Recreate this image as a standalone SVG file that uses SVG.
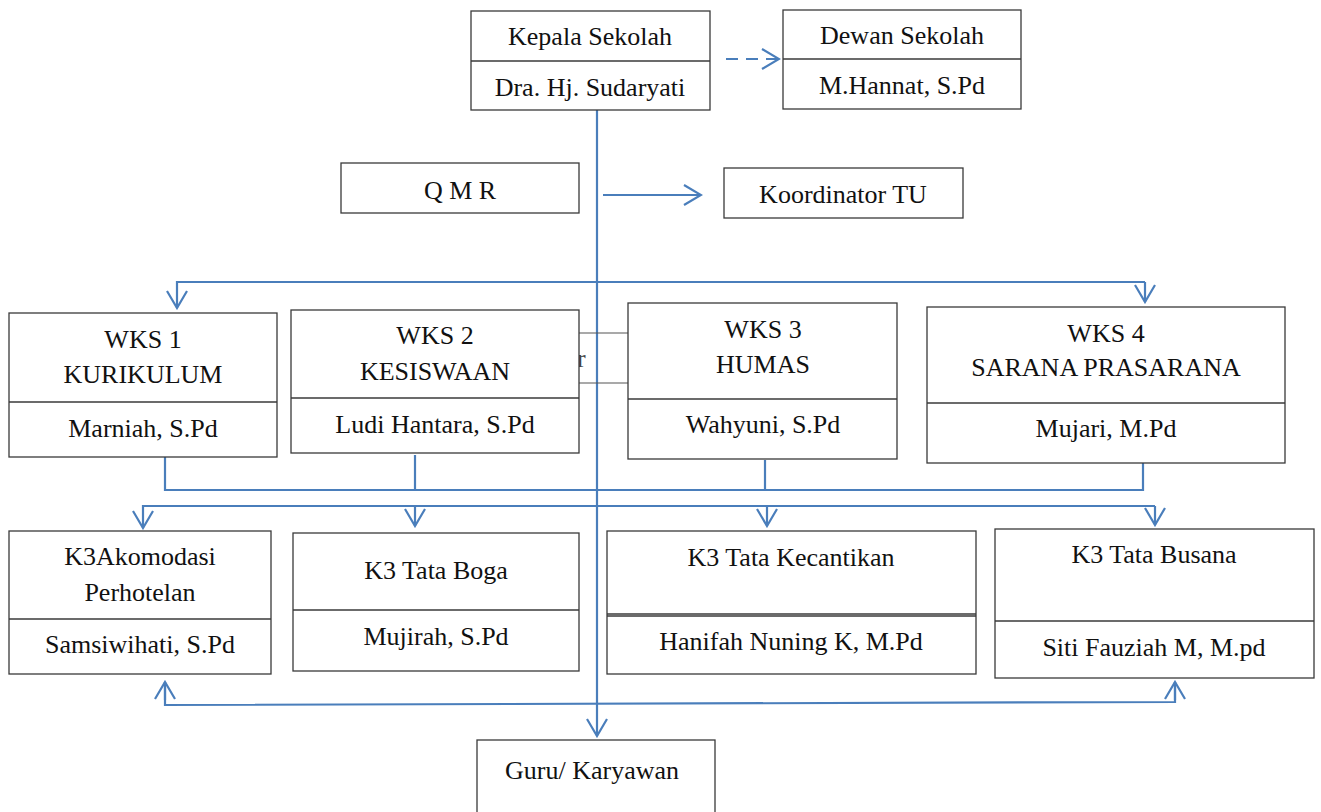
<svg xmlns="http://www.w3.org/2000/svg" width="1321" height="812" viewBox="0 0 1321 812">
<style>
.box{fill:#fff;stroke:#3a3a3a;stroke-width:1.3}
.div{stroke:#3a3a3a;stroke-width:1.3}
.t{font-family:"Liberation Serif","Times New Roman",serif;font-size:26px;fill:#111;text-anchor:middle}
.c{fill:none;stroke:#4a7ebb;stroke-width:2.2}
.g{fill:none;stroke:#555;stroke-width:1.2}
</style>
<defs>
<marker id="ah" viewBox="-20 -12 22 24" refX="0" refY="0" markerWidth="22" markerHeight="24" markerUnits="userSpaceOnUse" orient="auto">
<path d="M-17,-10 L0,0 L-17,10" fill="none" stroke="#4a7ebb" stroke-width="2.2"/>
</marker>
</defs>
<rect width="1321" height="812" fill="#fff"/>
<g id="connectors">
<line class="c" x1="726" y1="59" x2="779" y2="59" stroke-dasharray="12,8" marker-end="url(#ah)"/>
<line class="c" x1="597" y1="110" x2="597" y2="736" marker-end="url(#ah)"/>
<line class="c" x1="603" y1="195" x2="701" y2="195" marker-end="url(#ah)"/>
<polyline class="c" points="1145,282 177,282 177,308" marker-end="url(#ah)"/>
<line class="c" x1="1145" y1="282" x2="1145" y2="302" marker-end="url(#ah)"/>
<line class="g" x1="579" y1="333" x2="628" y2="333"/>
<line class="g" x1="579" y1="383" x2="628" y2="383"/>
<polyline class="c" points="165,457 165,490 1143,490 1143,462"/>
<line class="c" x1="415" y1="455" x2="415" y2="490"/>
<line class="c" x1="765" y1="460" x2="765" y2="490"/>
<polyline class="c" points="1155,506 143,506 143,528" marker-end="url(#ah)"/>
<line class="c" x1="415" y1="506" x2="415" y2="526" marker-end="url(#ah)"/>
<line class="c" x1="767" y1="506" x2="767" y2="526" marker-end="url(#ah)"/>
<line class="c" x1="1155" y1="506" x2="1155" y2="525" marker-end="url(#ah)"/>
<polyline class="c" points="165,682 165,705 1175,702 1175,682"/>
<line class="c" x1="165" y1="700" x2="165" y2="682" marker-end="url(#ah)"/>
<line class="c" x1="1175" y1="700" x2="1175" y2="682" marker-end="url(#ah)"/>
</g>
<text class="t" x="577" y="367" style="text-anchor:start;fill:#444">r</text>
<g id="kepala">
<rect class="box" x="471" y="11" width="239" height="99"/>
<line class="div" x1="471" y1="61" x2="710" y2="61"/>
<text class="t" x="590" y="45">Kepala Sekolah</text>
<text class="t" x="590" y="96">Dra. Hj. Sudaryati</text>
</g>
<g id="dewan">
<rect class="box" x="783" y="10" width="238" height="99"/>
<line class="div" x1="783" y1="59" x2="1021" y2="59"/>
<text class="t" x="902" y="44">Dewan Sekolah</text>
<text class="t" x="902" y="94">M.Hannat, S.Pd</text>
</g>
<g id="qmr">
<rect class="box" x="341" y="163" width="238" height="50"/>
<text class="t" x="460" y="199">Q M R</text>
</g>
<g id="koordinator">
<rect class="box" x="724" y="168" width="239" height="50"/>
<text class="t" x="843" y="203">Koordinator TU</text>
</g>
<g id="wks1">
<rect class="box" x="9" y="313" width="268" height="144"/>
<line class="div" x1="9" y1="402" x2="277" y2="402"/>
<text class="t" x="143" y="348">WKS 1</text>
<text class="t" x="143" y="383">KURIKULUM</text>
<text class="t" x="143" y="437">Marniah, S.Pd</text>
</g>
<g id="wks2">
<rect class="box" x="291" y="310" width="288" height="143"/>
<line class="div" x1="291" y1="398" x2="579" y2="398"/>
<text class="t" x="435" y="344">WKS 2</text>
<text class="t" x="435" y="380">KESISWAAN</text>
<text class="t" x="435" y="433">Ludi Hantara, S.Pd</text>
</g>
<g id="wks3">
<rect class="box" x="628" y="303" width="269" height="156"/>
<line class="div" x1="628" y1="399" x2="897" y2="399"/>
<text class="t" x="763" y="338">WKS 3</text>
<text class="t" x="763" y="373">HUMAS</text>
<text class="t" x="763" y="433">Wahyuni, S.Pd</text>
</g>
<g id="wks4">
<rect class="box" x="927" y="307" width="358" height="156"/>
<line class="div" x1="927" y1="403" x2="1285" y2="403"/>
<text class="t" x="1106" y="342">WKS 4</text>
<text class="t" x="1106" y="376">SARANA PRASARANA</text>
<text class="t" x="1106" y="437">Mujari, M.Pd</text>
</g>
<g id="k3akomodasi">
<rect class="box" x="9" y="531" width="262" height="143"/>
<line class="div" x1="9" y1="619" x2="271" y2="619"/>
<text class="t" x="140" y="565">K3Akomodasi</text>
<text class="t" x="140" y="601">Perhotelan</text>
<text class="t" x="140" y="653">Samsiwihati, S.Pd</text>
</g>
<g id="k3boga">
<rect class="box" x="293" y="533" width="286" height="138"/>
<line class="div" x1="293" y1="610" x2="579" y2="610"/>
<text class="t" x="436" y="579">K3 Tata Boga</text>
<text class="t" x="436" y="645">Mujirah, S.Pd</text>
</g>
<g id="k3kecantikan">
<rect class="box" x="607" y="531" width="369" height="143"/>
<line class="div" x1="607" y1="614" x2="976" y2="614"/>
<line class="div" x1="607" y1="616" x2="976" y2="616"/>
<text class="t" x="791" y="566">K3 Tata Kecantikan</text>
<text class="t" x="791" y="650">Hanifah Nuning K, M.Pd</text>
</g>
<g id="k3busana">
<rect class="box" x="995" y="529" width="319" height="149"/>
<line class="div" x1="995" y1="621" x2="1314" y2="621"/>
<text class="t" x="1154" y="563">K3 Tata Busana</text>
<text class="t" x="1154" y="656">Siti Fauziah M, M.pd</text>
</g>
<g id="guru">
<rect class="box" x="477" y="740" width="238" height="80"/>
<text class="t" x="592" y="779">Guru/ Karyawan</text>
</g>
</svg>
